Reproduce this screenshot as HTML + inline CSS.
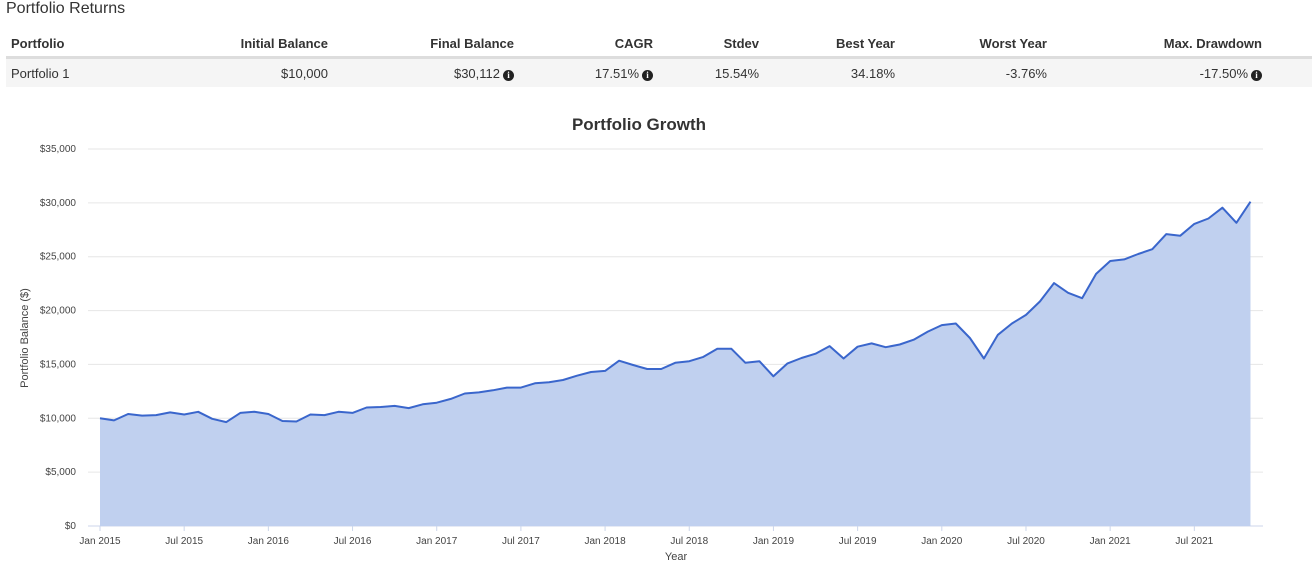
<!DOCTYPE html>
<html><head><meta charset="utf-8"><style>
body{margin:0;width:1312px;height:567px;background:#fff;font-family:"Liberation Sans",Arial,sans-serif;color:#333;overflow:hidden;position:relative}
.title{position:absolute;left:6px;top:0px;font-size:16px;color:#333}
table{position:absolute;left:6px;top:30px;width:1306px;border-collapse:collapse;font-size:13px}
th{font-weight:bold;text-align:right;height:26px;border-bottom:3px solid #ddd;padding:0}
td{text-align:right;height:28px;background:#f5f5f5;padding:0;color:#333}
.l{text-align:left;padding-left:5px}
.i{display:inline-block;width:11px;height:11px;border-radius:50%;background:#222;color:#fff;font-size:9px;font-weight:bold;line-height:11px;text-align:center;font-family:"Liberation Serif",serif;vertical-align:0px;margin-left:3px}
svg{position:absolute;left:0;top:0}
</style></head><body>
<div class="title">Portfolio Returns</div>
<table>
<colgroup><col style="width:120px"><col style="width:202px"><col style="width:186px"><col style="width:139px"><col style="width:106px"><col style="width:136px"><col style="width:152px"><col style="width:215px"><col></colgroup>
<tr><th class="l">Portfolio</th><th>Initial Balance</th><th>Final Balance</th><th>CAGR</th><th>Stdev</th><th>Best Year</th><th>Worst Year</th><th>Max. Drawdown</th><th></th></tr>
<tr><td class="l">Portfolio 1</td><td>$10,000</td><td>$30,112<span class="i">i</span></td><td>17.51%<span class="i">i</span></td><td>15.54%</td><td>34.18%</td><td>-3.76%</td><td>-17.50%<span class="i">i</span></td><td></td></tr>
</table>
<svg id="chart" width="1312" height="567"></svg>
<script>
const values=[10000,9800,10400,10250,10300,10550,10350,10600,9950,9650,10500,10600,
10400,9750,9700,10350,10300,10600,10500,11000,11050,11150,10950,11300,
11450,11800,12300,12400,12600,12850,12850,13250,13350,13550,13950,14300,
14400,15350,14950,14580,14580,15150,15300,15700,16450,16450,15150,15300,
13900,15100,15600,16000,16700,15550,16650,16950,16600,16850,17300,18050,
18650,18800,17450,15550,17750,18800,19600,20850,22550,21650,21150,23400,
24600,24750,25250,25700,27100,26950,28050,28550,29550,28150,30112];
const yTicks=[0,5000,10000,15000,20000,25000,30000,35000];
const xTickLabels=["Jan 2015","Jul 2015","Jan 2016","Jul 2016","Jan 2017","Jul 2017","Jan 2018","Jul 2018","Jan 2019","Jul 2019","Jan 2020","Jul 2020","Jan 2021","Jul 2021"];
const xTickMonths=[0,6,12,18,24,30,36,42,48,54,60,66,72,78];
const NS="http://www.w3.org/2000/svg";
const svg=document.getElementById('chart');
const X=m=>100+m*14.03, Y=v=>526-v*(377/35000);
function mk(t,a,txt){const e=document.createElementNS(NS,t);for(const k in a)e.setAttribute(k,a[k]);if(txt!=null)e.textContent=txt;svg.appendChild(e);return e;}
yTicks.forEach(v=>{
 const g=mk('line',{x1:88,x2:1263,y1:Y(v),y2:Y(v),stroke:v===0?'#ccd6eb':'#e6e6e6','stroke-width':1});
 
 
 const t=mk('text',{x:76,y:Y(v)+3,'text-anchor':'end','font-size':10,fill:'#444'},'$'+v.toLocaleString('en-US'));
 
 
});
xTickMonths.forEach((m,i)=>{
 const tk=mk('line',{x1:X(m),x2:X(m),y1:526,y2:531,stroke:'#ccd6eb'});
 
 
 const t=mk('text',{x:X(m),y:544,'text-anchor':'middle','font-size':10,fill:'#444'},xTickLabels[i]);
 
 
});
let d=values.map((v,i)=>(i?'L':'M')+X(i).toFixed(1)+','+Y(v).toFixed(1)).join(' ');
const area=mk('path',{d:d+` L${X(values.length-1)},526 L${X(0)},526 Z`,fill:'#c0d0ef'});


const line=mk('path',{d:d,fill:'none',stroke:'#3a66cc','stroke-width':2,'stroke-linejoin':'round'});


const tt=mk('text',{x:639,y:130,'text-anchor':'middle','font-size':17,'font-weight':'bold',fill:'#333'},'Portfolio Growth');


const xt=mk('text',{x:676,y:560,'text-anchor':'middle','font-size':11,fill:'#444'},'Year');


const yt=mk('text',{x:0,y:0,'text-anchor':'middle','font-size':11,fill:'#444',transform:'translate(28,338) rotate(-90)'},'Portfolio Balance ($)');


</script>
</body></html>
